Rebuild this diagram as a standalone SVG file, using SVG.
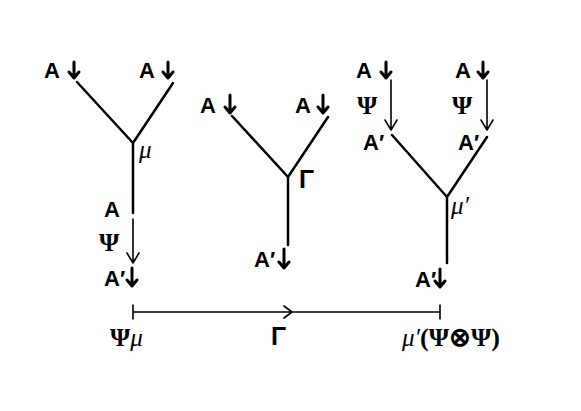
<svg xmlns="http://www.w3.org/2000/svg" width="581" height="411" viewBox="0 0 581 411">
<style>
.t{font-family:"Liberation Sans",Arial,sans-serif;font-weight:bold;font-size:22px;fill:#000}
.g{font-family:"Liberation Sans",Arial,sans-serif;font-weight:bold;font-size:25px;fill:#000}
.s{font-family:"Liberation Serif","Times New Roman",serif;font-weight:bold;font-size:26px;fill:#000}
.m{font-family:"Liberation Serif","Times New Roman",serif;font-style:italic;font-size:25px;fill:#000}
.w{stroke:#000;stroke-width:2.5;fill:none;stroke-linecap:round}
.a{stroke:#000;stroke-width:1.6;fill:none;stroke-linecap:round;stroke-linejoin:round}
.b{stroke:#000;stroke-width:3;fill:none;stroke-linecap:round;stroke-linejoin:round}
</style>
<rect width="581" height="411" fill="#fff"/>
<g id="connectors">
<path class="w" d="M77 82L133 143M173 83L133 143M133 143V213"/>
<path class="a" d="M133 219V263M127 253L133 263L139 253"/>
<path class="w" d="M232 116L288 177M328 117L288 177M288 177V245"/>
<path class="a" d="M391 80V130M385 120L391 130L397 120M487 80V130M481 120L487 130L493 120"/>
<path class="w" d="M392 135L447 197M487 137L447 197M447 197V263"/>
<path class="a" d="M133 312H440M133 305V319M440 305V319M284 306L292 312L284 318"/>
</g>
<g id="node-mu">
<text class="t" x="44" y="78">A</text><path class="b" d="M74 62V78M69 72L74 78L79 72"/>
<text class="t" x="139" y="78">A</text><path class="b" d="M168 62V78M163 72L168 78L173 72"/>
<text class="m" x="139" y="158">μ</text>
<text class="t" x="104" y="217">A</text>
<text class="s" x="99" y="251">Ψ</text>
<text class="t" x="104" y="286">A′</text><path class="b" d="M132 268V286M127 280L132 286L137 280"/>
</g>
<g id="node-gamma">
<text class="t" x="200" y="113">A</text><path class="b" d="M230 95V113M225 107L230 113L235 107"/>
<text class="t" x="295" y="113">A</text><path class="b" d="M323 95V113M318 107L323 113L328 107"/>
<text class="g" x="299" y="188">Γ</text>
<text class="t" x="254" y="267">A′</text><path class="b" d="M284 249V268M279 262L284 268L289 262"/>
</g>
<g id="node-muprime">
<text class="t" x="356" y="78">A</text><path class="b" d="M386 62V78M381 72L386 78L391 72"/>
<text class="s" x="357" y="114">Ψ</text>
<text class="t" x="363" y="150">A′</text>
<text class="t" x="455" y="78">A</text><path class="b" d="M483 62V78M478 72L483 78L488 72"/>
<text class="s" x="452" y="114">Ψ</text>
<text class="t" x="458" y="150">A′</text>
<text class="m" x="451" y="214">μ′</text>
<text class="t" x="415" y="287">A′</text><path class="b" d="M440 269V287M435 281L440 287L445 281"/>
</g>
<g id="labels">
<text class="s" x="110" y="346">Ψ<tspan class="m" font-weight="normal">μ</tspan></text>
<text class="g" x="271" y="345">Γ</text>
<text class="s" x="402" y="346" font-size="29"><tspan class="m" font-weight="normal" font-size="26">μ′</tspan>(Ψ⊗Ψ)</text>
</g>
</svg>
